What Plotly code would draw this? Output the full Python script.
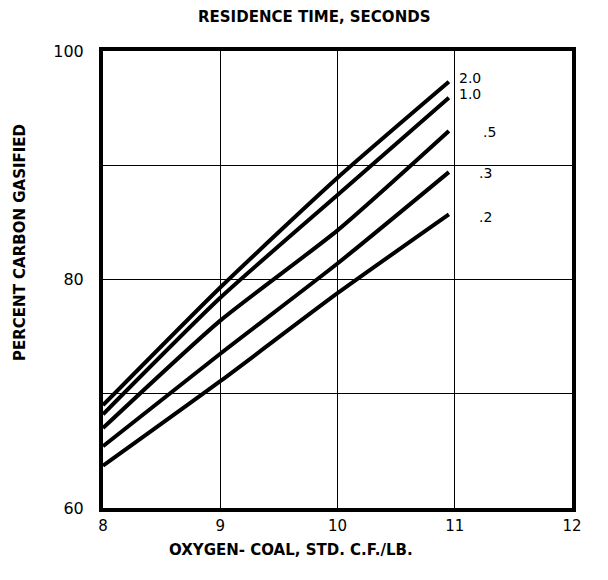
import plotly.graph_objects as go

# Data
x_points = [8.0, 9.0, 10.0, 10.95]
series_labels = ["2.0", "1.0", ".5", ".3", ".2"]
series_values = {
    "2.0": [69.0, 79.3, 88.9, 97.3],
    "1.0": [68.2, 78.4, 87.4, 95.9],
    ".5": [67.0, 76.4, 84.3, 93.0],
    ".3": [65.4, 73.5, 81.4, 89.4],
    ".2": [63.7, 71.1, 78.8, 85.7],
}
label_pos = {
    "2.0": (11.02, 97.6),
    "1.0": (11.02, 96.2),
    ".5": (11.22, 92.9),
    ".3": (11.19, 89.3),
    ".2": (11.19, 85.5),
}
y_tickvals = [60, 70, 80, 90, 100]
y_ticktext = ["60", "", "80", "", "100"]
x_tickvals = [8, 9, 10, 11, 12]
x_ticktext = ["8", "9", "10", "11", "12"]

FONT = "DejaVu Sans"

fig = go.Figure()
for name in series_labels:
    fig.add_trace(go.Scatter(
        x=x_points, y=series_values[name], mode="lines",
        line=dict(color="black", width=4, shape="spline", smoothing=0.6),
        name=name, showlegend=False, hoverinfo="skip"))

for name in series_labels:
    lx, ly = label_pos[name]
    fig.add_annotation(x=lx, y=ly, text=name, showarrow=False,
                       xanchor="left", yanchor="middle",
                       font=dict(family=FONT, size=14, color="black"))

# Titles
fig.add_annotation(x=0.45, y=1.0, xref="paper", yref="paper",
                   xanchor="center", yanchor="middle",
                   yshift=34, text="<b>RESIDENCE TIME, SECONDS</b>",
                   showarrow=False, font=dict(family=FONT, size=15, color="black"))
fig.add_annotation(x=0.4, y=0.0, xref="paper", yref="paper",
                   xanchor="center", yanchor="middle",
                   yshift=-42, text="<b>OXYGEN- COAL, STD. C.F./LB.</b>",
                   showarrow=False, font=dict(family=FONT, size=15, color="black"))
fig.add_annotation(x=0.0, y=0.58, xref="paper", yref="paper",
                   xanchor="center", yanchor="middle",
                   xshift=-83, text="<b>PERCENT CARBON GASIFIED</b>", textangle=-90,
                   showarrow=False, font=dict(family=FONT, size=15, color="black"))

fig.update_layout(
    width=608, height=580,
    margin=dict(l=95, r=44, t=43, b=80),
    paper_bgcolor="white", plot_bgcolor="white",
    font=dict(family=FONT, color="black"),
)
fig.update_xaxes(
    range=[8, 12], tickvals=x_tickvals, ticktext=x_ticktext,
    showgrid=True, gridcolor="black", gridwidth=1,
    showline=True, linecolor="black", linewidth=4, mirror=True,
    ticks="", zeroline=False, ticklabelstandoff=1,
    tickfont=dict(family=FONT, size=15, color="black"),
)
fig.update_yaxes(
    range=[60, 100], tickvals=y_tickvals, ticktext=y_ticktext,
    showgrid=True, gridcolor="black", gridwidth=1,
    showline=True, linecolor="black", linewidth=4, mirror=True,
    ticks="", zeroline=False, ticklabelstandoff=12,
    tickfont=dict(family=FONT, size=16, color="black"),
)

fig.write_html("out.html")
